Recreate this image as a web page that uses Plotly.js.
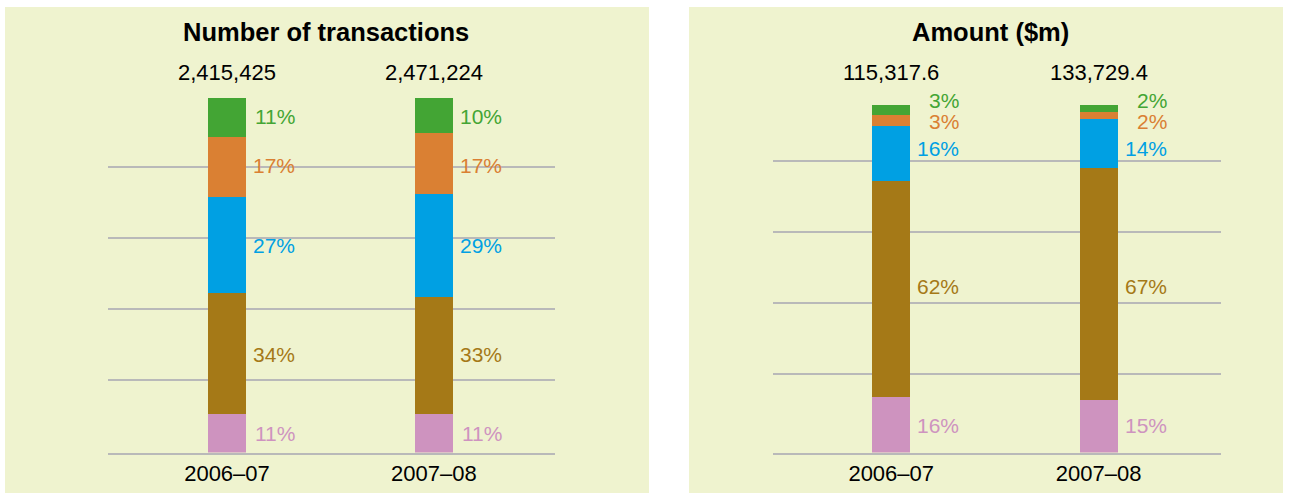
<!DOCTYPE html>
<html>
<head>
<meta charset="utf-8">
<script src="https://cdn.plot.ly/plotly-3.0.1.min.js"></script>
<style>
	body { margin: 0; background: #ffffff; }
	#graph { width: 1289px; height: 494px; }
</style>
</head>
<body>
<div id="graph"></div>
<script>
var years = ["2006\u201307", "2007\u201308"];

// number of transactions, share of total (%)
var countTotals = [2415425, 2471224];
var countPink = [11, 11];
var countBrown = [34, 33];
var countBlue = [27, 29];
var countOrange = [17, 17];
var countGreen = [11, 10];

// amount ($m), share of total (%)
var amountTotals = [115317.6, 133729.4];
var amountPink = [16, 15];
var amountBrown = [62, 67];
var amountBlue = [16, 14];
var amountOrange = [3, 2];
var amountGreen = [3, 2];

var COLORS = ["#CE93BF", "#A57917", "#00A0E3", "#DA8033", "#43A534"];
var BG = "#EFF3CF";
var GRID = "#B9B9B9";
var FONT = "Liberation Sans, Arial, sans-serif";
var W = 1289, H = 494;
var BASE = 452.5, YMAX = 115;

function py(p)
{
	return 1 - p / H;
}

function px(p)
{
	return p / W;
}

// stack label positions, spread apart when the segments are thin
function labelSpots(segs, gap)
{
	var mids = [], base = 0, total = 0, spots = [], i;

	for (i = 0; i < segs.length; i++)
	{
		mids.push(base + segs[i] / 2);
		base += segs[i];
	}
	total = base;

	for (i = segs.length - 1; i >= 0; i--)
	{
		if (i == segs.length - 1)
			spots[i] = segs[i] < gap ? total + gap * 0.2 : mids[i];
		else
			spots[i] = Math.min(mids[i], spots[i + 1] - gap);
	}
	return spots;
}

function genPanel(series, totals, ax, data, annotations)
{
	var i, j, spots, rows = [];

	for (i = 0; i < series.length; i++)
	{
		data.push({
			type: "bar",
			x: years,
			y: series[i],
			xaxis: "x" + ax,
			yaxis: "y" + ax,
			width: 0.184,
			marker: {color: COLORS[i], line: {width: 0}},
			hoverinfo: "none",
			showlegend: false
		});
	}

	// labels sit on one common row per series, shared by both years
	for (j = 0; j < years.length; j++)
		rows.push(labelSpots(series.map(function(s) { return s[j]; }), 5.8));

	spots = series.map(function(s, k)
	{
		return rows.reduce(function(a, r) { return a + r[k]; }, 0) / rows.length;
	});

	for (j = 0; j < years.length; j++)
	{
		for (i = 0; i < series.length; i++)
		{
			annotations.push({
				xref: "x" + ax,
				yref: "y" + ax,
				x: years[j],
				y: spots[i],
				xshift: 70,
				xanchor: "right",
				yanchor: "middle",
				showarrow: false,
				text: series[i][j] + "%",
				font: {family: FONT, size: 21, color: COLORS[i]}
			});
		}

		annotations.push({
			xref: "x" + ax,
			yref: "paper",
			x: years[j],
			y: py(72),
			xanchor: "center",
			yanchor: "middle",
			showarrow: false,
			text: totals[j].toLocaleString("en-US", {maximumFractionDigits: 1, minimumFractionDigits: totals[j] % 1 ? 1 : 0}),
			font: {family: FONT, size: 22, color: "#000000"}
		});
	}
}

function axisX(x0, x1, r)
{
	return {
		type: "category",
		domain: [px(x0), px(x1)],
		range: r,
		showgrid: false,
		zeroline: false,
		showline: true,
		linecolor: GRID,
		linewidth: 2,
		ticks: "",
		tickfont: {family: FONT, size: 22, color: "#000000"},
		fixedrange: true
	};
}

// top100: pixel row where a full 100% stack ends
function axisY(top100, grid)
{
	var perUnit = (BASE - top100) / 100;

	return {
		domain: [py(BASE), py(BASE - YMAX * perUnit)],
		range: [0, YMAX],
		tickvals: grid,
		showticklabels: false,
		showgrid: true,
		gridcolor: GRID,
		gridwidth: 2,
		zeroline: false,
		showline: false,
		ticks: "",
		fixedrange: true
	};
}

function genGraph()
{
	var data = [], annotations = [], layout;

	genPanel([countPink, countBrown, countBlue, countOrange, countGreen], countTotals, "", data, annotations);
	genPanel([amountPink, amountBrown, amountBlue, amountOrange, amountGreen], amountTotals, "2", data, annotations);

	annotations.push({
		xref: "paper", yref: "paper", x: px(326), y: py(32),
		xanchor: "center", yanchor: "middle",
		showarrow: false, text: "<b>Number of transactions</b>",
		font: {family: FONT, size: 25.5, color: "#000000"}
	});
	annotations.push({
		xref: "paper", yref: "paper", x: px(990), y: py(32),
		xanchor: "center", yanchor: "middle",
		showarrow: false, text: "<b>Amount ($m)</b>",
		font: {family: FONT, size: 25.5, color: "#000000"}
	});

	layout =
	{
		width: W,
		height: H,
		margin: {l: 0, r: 0, t: 0, b: 0},
		paper_bgcolor: "#ffffff",
		plot_bgcolor: "rgba(0,0,0,0)",
		barmode: "stack",
		bargap: 0,
		showlegend: false,
		xaxis: axisX(108, 555, [-0.575, 1.585]),
		yaxis: axisY(98, [20.45, 40.5, 60.5, 80.5]),
		xaxis2: axisX(773, 1221, [-0.57, 1.59]),
		yaxis2: axisY(105, [22.5, 42.9, 63.4, 83.9]),
		shapes: [
			{type: "rect", xref: "paper", yref: "paper", layer: "below",
				x0: px(5), x1: px(649), y0: py(493), y1: py(7),
				fillcolor: BG, line: {width: 0}},
			{type: "rect", xref: "paper", yref: "paper", layer: "below",
				x0: px(689), x1: px(1283), y0: py(493), y1: py(7),
				fillcolor: BG, line: {width: 0}}
		],
		annotations: annotations
	};

	Plotly.newPlot("graph", data, layout, {displayModeBar: false, staticPlot: true});
}

genGraph();
</script>
</body>
</html>
